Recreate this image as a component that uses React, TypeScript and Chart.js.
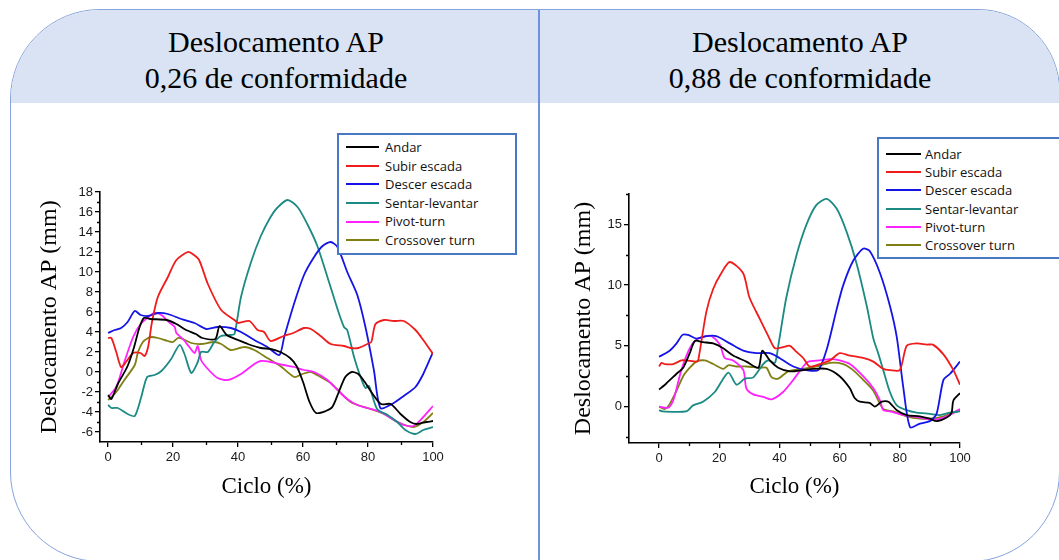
import React, { useEffect, useRef } from 'react';
import { Chart, registerables } from 'chart.js';
Chart.register(...registerables);

type Pt = [number, number];

const seriesNames = ['Andar', 'Subir escada', 'Descer escada', 'Sentar-levantar', 'Pivot-turn', 'Crossover turn'];
const seriesColors = ['#000000', '#f01c1c', '#1414e6', '#1b8a82', '#ff22ff', '#7f7f14'];

const titleLine1 = 'Deslocamento AP';
const leftTitleLine2 = '0,26 de conformidade';
const rightTitleLine2 = '0,88 de conformidade';
const yAxisTitle = 'Deslocamento AP (mm)';
const xAxisTitle = 'Ciclo (%)';

// ---------- Left chart (0,26) ----------
const L_andar: Pt[] = [[0,-2.3],[1,-2.7],[3,-1.2],[6,0.6],[8,2.5],[9.5,4.3],[11,5.4],[13,5.3],[18,5.2],[21,4.8],[24,4.2],[27,3.8],[29,3.4],[33,3.3],[34.3,4.6],[36.5,3.7],[40,3.2],[43,2.8],[47,2.4],[50,2.3],[53,2.0],[56,1.4],[58,0.6],[60,-1.0],[62,-3.0],[64,-4.1],[67,-3.9],[69,-3.5],[71,-2.0],[73,-0.5],[75,0.0],[77,-0.2],[79,-1.0],[81,-2.0],[84,-3.2],[87,-3.2],[90,-4.2],[93,-5.0],[95,-5.2],[98,-5.0],[100,-4.9]];
const L_subir: Pt[] = [[0,3.4],[1,3.4],[2.5,2.0],[4,0.5],[5.5,1.0],[7.7,1.9],[10,1.9],[11.2,1.6],[12.3,2.5],[13.5,5.0],[15.3,7.5],[18.4,9.5],[21,11.2],[24.5,12.0],[26,11.8],[28,11.2],[30.7,8.8],[34.8,6.2],[38.9,5.2],[40,4.9],[43.5,5.1],[46,4.2],[48,4.0],[50,3.1],[54,3.6],[57,3.9],[60.3,4.4],[62.4,4.3],[65.4,3.6],[68.5,2.8],[72.6,2.6],[74.6,2.4],[77,2.4],[79.8,2.8],[81,3.0],[82.3,4.8],[85,5.2],[88,5.1],[91,5.1],[94.6,4.2],[97,3.2],[100,1.8]];
const L_descer: Pt[] = [[0,3.9],[2,4.2],[4,4.4],[6,5.0],[8.2,6.1],[10,5.7],[12.3,5.6],[15.3,5.9],[18.4,5.8],[22.5,5.3],[26.6,4.9],[30.2,4.3],[33.7,4.5],[37.8,4.4],[40.9,4.0],[45,3.2],[49,2.5],[52.7,1.7],[54.2,3.5],[57.3,6.9],[60.3,9.7],[63.4,11.5],[66,12.6],[68.5,13.0],[70.6,12.5],[73.6,10.0],[76.7,7.7],[79.2,4.5],[81.8,0.2],[83.8,-3.6],[87.4,-3.2],[91,-2.4],[94.6,-1.5],[97,-0.2],[100,2.0]];
const L_sentar: Pt[] = [[0,-3.3],[1,-3.6],[3,-3.6],[6,-4.2],[8.2,-4.4],[10.2,-2.5],[12,-0.5],[14.3,-0.3],[16.4,0.1],[19.4,1.3],[22,2.7],[23.5,1.8],[25.6,-0.1],[27.6,1.0],[28.6,2.0],[30.7,2.0],[32.7,3.0],[34.8,3.6],[37.8,3.7],[38.9,3.8],[40.9,7.5],[44,11.0],[47,13.6],[50,15.5],[52,16.4],[55.2,17.2],[58.3,16.5],[61.3,14.8],[64.4,12.6],[67.5,9.5],[70.6,6.3],[72.6,4.5],[73.6,4.2],[75.7,1.5],[77.7,-0.5],[79.2,-1.6],[80.3,-1.4],[82.8,-3.7],[86,-4.3],[89,-5.0],[91.5,-5.8],[94.6,-6.2],[97,-5.8],[100,-5.5]];
const L_pivot: Pt[] = [[0,-2.5],[2.5,-1.5],[5,1.0],[7.7,3.5],[10,4.8],[12.8,5.6],[14.3,5.9],[16.4,5.7],[19,4.9],[20.5,4.5],[21,3.9],[23,3.3],[25,2.5],[26.6,1.9],[27.6,2.6],[28.6,1.2],[30.7,0.3],[33.7,-0.6],[36.8,-0.8],[40.9,-0.2],[45,0.8],[47,1.1],[50,1.0],[54,0.7],[57.3,0.5],[60.3,0.2],[63.4,0.0],[67.5,-0.8],[70.6,-1.8],[73.6,-2.7],[76.7,-3.3],[79.8,-3.6],[83.8,-4.0],[88,-4.8],[91,-5.3],[94,-5.4],[97,-4.5],[100,-3.4]];
const L_cross: Pt[] = [[0,-2.8],[2.5,-2.0],[5,-0.8],[8.2,0.7],[9.2,2.0],[10.7,3.0],[12.3,3.4],[13.3,3.5],[15.3,3.4],[18.4,3.1],[20,3.0],[21.5,3.4],[23,3.3],[25.6,2.9],[28.6,2.8],[32.7,3.0],[34.8,2.8],[37.8,2.2],[42,2.5],[45,2.2],[49,1.4],[53,0.6],[57.3,-0.5],[59.8,-0.2],[62.4,0.0],[65.4,-0.5],[68.5,-1.1],[71.6,-2.1],[74.6,-3.0],[77.7,-3.4],[80.8,-3.7],[85,-4.2],[89,-5.0],[94,-5.5],[97,-5.0],[100,-4.1]];

// ---------- Right chart (0,88) ----------
const R_andar: Pt[] = [[0,1.4],[2.4,1.9],[5.8,2.7],[8,3.2],[10.2,4.4],[11.9,5.4],[14.6,5.3],[18,5.2],[21.3,4.8],[24.6,4.2],[29,3.7],[33,3.2],[34.3,4.6],[36.8,3.8],[39.6,3.2],[43.5,2.9],[47.9,3.0],[51.2,3.1],[55.7,3.1],[60,2.5],[63.4,1.5],[65,0.7],[66.7,0.4],[70,0.3],[71.7,0.0],[74,0.4],[76.2,0.4],[79,-0.3],[82.3,-0.7],[86.7,-0.8],[90,-1.0],[92.2,-1.2],[95.6,-0.9],[97.2,-0.5],[97.8,0.5],[100,1.1]];
const R_subir: Pt[] = [[0,3.3],[0.8,3.6],[1.9,3.5],[4.7,3.5],[7.4,3.8],[9,3.8],[12.4,3.7],[13,3.8],[15.7,7.8],[18,9.7],[20.7,11.0],[23.5,11.9],[27.9,11.0],[30,9.0],[33.5,7.2],[36.3,5.8],[38.5,4.8],[41.2,4.9],[43.5,5.0],[45.7,4.5],[47.9,4.0],[50,3.3],[53.4,3.5],[56.8,3.8],[60,4.4],[63.4,4.2],[67.8,4.0],[71.2,3.7],[74.5,3.1],[76.7,3.0],[80,3.0],[82.3,5.0],[85.6,5.2],[89,5.1],[91,5.1],[94.5,4.3],[97.8,3.0],[100,1.8]];
const R_descer: Pt[] = [[0,4.1],[3.5,4.6],[5.8,5.2],[7.8,5.9],[9.6,5.9],[12.4,5.6],[15.7,5.8],[19,5.8],[23.5,5.2],[28,4.6],[32.4,4.4],[36.8,4.4],[40,4.0],[44.6,3.3],[49,3.0],[52.9,3.0],[55.7,4.7],[59,8.0],[61.2,10.0],[64.5,12.0],[67.8,13.0],[70,12.8],[73.4,11.0],[76.7,8.3],[79,5.7],[81.2,1.5],[83.4,-1.7],[86.7,-1.4],[90,-1.2],[92.2,-0.6],[94.5,2.2],[96.7,2.7],[100,3.7]];
const R_sentar: Pt[] = [[0,-0.3],[1.3,-0.4],[9,-0.4],[11.3,0.1],[14.6,0.4],[18.5,1.2],[23,2.8],[25.7,1.8],[28.5,2.3],[31.3,2.4],[34.6,3.5],[36.3,3.8],[38.5,3.6],[39.6,5.0],[42.3,9.0],[45.7,12.5],[49,15.0],[52.3,16.6],[55.7,17.1],[59,16.3],[62.3,14.4],[65.6,11.8],[69,8.3],[71.2,5.6],[72.8,4.4],[74.5,3.0],[76.7,1.2],[79,0.1],[82.3,-0.3],[85.6,-0.5],[90,-0.6],[93.3,-0.7],[96.7,-0.5],[100,-0.4]];
const R_pivot: Pt[] = [[0,0.0],[3,-0.1],[4.7,0.5],[7.4,3.0],[10.2,4.8],[12.4,5.5],[15.7,5.8],[17.4,5.8],[20.2,5.1],[21.8,4.0],[24.6,3.8],[28,3.0],[29,1.5],[31.3,1.0],[34.6,0.8],[37.4,0.6],[41.2,1.2],[44.6,2.2],[47.9,3.3],[49.6,3.7],[53.4,3.8],[56.8,3.9],[60,3.8],[63.4,3.5],[67.8,2.5],[71.2,1.5],[73.4,0.5],[74.5,-0.3],[76.7,-0.4],[81.2,-0.7],[86.7,-0.9],[91,-1.1],[95.6,-0.8],[100,-0.2]];
const R_cross: Pt[] = [[0,0.0],[1.9,-0.2],[3.5,0.2],[5.8,1.3],[8,2.5],[10.2,3.2],[12.4,3.7],[15.2,3.8],[18,3.5],[21.3,3.1],[23,3.4],[25.7,3.3],[29,3.3],[33.5,3.2],[35.7,3.2],[37.4,2.4],[39.6,2.3],[42.9,2.9],[47.9,3.1],[52.3,3.3],[56.8,3.6],[61.2,3.5],[64.5,3.0],[67.8,2.2],[71.2,1.3],[74.5,-0.2],[77.8,-0.4],[82.3,-0.8],[86.7,-1.0],[90,-1.0],[94.5,-0.8],[100,-0.3]];

const leftSeries = [L_andar, L_subir, L_descer, L_sentar, L_pivot, L_cross];
const rightSeries = [R_andar, R_subir, R_descer, R_sentar, R_pivot, R_cross];

// Tick values
const L_xMajor = [0, 20, 40, 60, 80, 100];
const L_xMinor = [10, 30, 50, 70, 90];
const L_yMajor = [-6, -4, -2, 0, 2, 4, 6, 8, 10, 12, 14, 16, 18];
const L_yMinor = [-5, -3, -1, 1, 3, 5, 7, 9, 11, 13, 15, 17];
const R_xMajor = [0, 20, 40, 60, 80, 100];
const R_xMinor = [10, 30, 50, 70, 90];
const R_yMajor = [0, 5, 10, 15];
const R_yMinor = [-2.5, 2.5, 7.5, 12.5, 17.5];

interface PanelCfg {
  series: Pt[][];
  xMin: number; xMax: number; yMin: number; yMax: number;
  xMajor: number[]; xMinor: number[]; yMajor: number[]; yMinor: number[];
  padTop: number; padRight: number; yWidth: number; xHeight: number;
  yTitlePad: number; xTitlePad: number;
}

const tickFont = { family: '"Liberation Sans", Arial, sans-serif', size: 13 };
const serif = '"Liberation Serif", "Times New Roman", serif';

function makeChart(canvas: HTMLCanvasElement, p: PanelCfg) {
  const minorPlugin = {
    id: 'minorTicks',
    afterDraw(chart: any) {
      const ctx = chart.ctx;
      const area = chart.chartArea;
      const xs = chart.scales.x;
      const ys = chart.scales.y;
      ctx.save();
      ctx.strokeStyle = '#000';
      ctx.lineWidth = 1.3;
      ctx.beginPath();
      p.xMinor.forEach((v) => {
        const px = Math.round(xs.getPixelForValue(v)) + 0.5;
        ctx.moveTo(px, area.bottom);
        ctx.lineTo(px, area.bottom + 3);
      });
      p.yMinor.forEach((v) => {
        const py = Math.round(ys.getPixelForValue(v)) + 0.5;
        ctx.moveTo(area.left - 3, py);
        ctx.lineTo(area.left, py);
      });
      ctx.stroke();
      ctx.restore();
    },
  };

  return new Chart(canvas, {
    type: 'line',
    data: {
      datasets: p.series.map((s, i) => ({
        label: seriesNames[i],
        data: s.map(([x, y]) => ({ x, y })),
        borderColor: seriesColors[i],
        backgroundColor: seriesColors[i],
        borderWidth: 1.8,
        pointRadius: 0,
        tension: 0.25,
        fill: false,
      })),
    },
    options: {
      animation: false,
      responsive: false,
      maintainAspectRatio: false,
      layout: { padding: { top: p.padTop, right: p.padRight, bottom: 0, left: 0 } },
      plugins: { legend: { display: false }, tooltip: { enabled: false } },
      scales: {
        x: {
          type: 'linear',
          min: p.xMin,
          max: p.xMax,
          afterBuildTicks: (s: any) => { s.ticks = p.xMajor.map((v) => ({ value: v })); },
          afterFit: (s: any) => { s.height = p.xHeight; },
          ticks: { font: tickFont, color: '#1a1a1a', padding: 3, maxRotation: 0, autoSkip: false },
          grid: { display: true, drawOnChartArea: false, drawTicks: true, tickLength: 5, color: '#000', lineWidth: 1.3 },
          border: { display: true, color: '#000', width: 1.6 },
          title: {
            display: true,
            text: xAxisTitle,
            font: { family: serif, size: 23 },
            color: '#000',
            padding: { top: 0, bottom: p.xTitlePad },
          },
        },
        y: {
          type: 'linear',
          min: p.yMin,
          max: p.yMax,
          afterBuildTicks: (s: any) => { s.ticks = p.yMajor.map((v) => ({ value: v })); },
          afterFit: (s: any) => { s.width = p.yWidth; },
          ticks: { font: tickFont, color: '#1a1a1a', padding: 2, autoSkip: false },
          grid: { display: true, drawOnChartArea: false, drawTicks: true, tickLength: 5, color: '#000', lineWidth: 1.3 },
          border: { display: true, color: '#000', width: 1.6 },
          title: {
            display: true,
            text: yAxisTitle,
            font: { family: serif, size: 24 },
            color: '#000',
            padding: { top: p.yTitlePad, bottom: 0 },
          },
        },
      },
    },
    plugins: [minorPlugin],
  } as any);
}

function ChartCanvas({ cfg, left }: { cfg: PanelCfg; left: number }) {
  const ref = useRef<HTMLCanvasElement>(null);
  useEffect(() => {
    if (!ref.current) return;
    const c = makeChart(ref.current, cfg);
    return () => c.destroy();
  }, []);
  return (
    <canvas
      ref={ref}
      width={500}
      height={370}
      style={{ position: 'absolute', left, top: 150, width: 500, height: 370 }}
    />
  );
}

function Legend({ left, top, width, padTop, rowH, sampleW, gap }: { left: number; top: number; width: number; padTop: number; rowH: number; sampleW: number; gap: number }) {
  return (
    <div
      style={{
        position: 'absolute', left, top, width, height: 122, boxSizing: 'border-box',
        border: '2px solid #4a76c6', background: '#fff', paddingTop: padTop, paddingLeft: 7,
        fontFamily: '"Open Sans", Lato, sans-serif', fontSize: 13, color: '#111',
      }}
    >
      {seriesNames.map((n, i) => (
        <div key={n} style={{ height: rowH, display: 'flex', alignItems: 'center', whiteSpace: 'nowrap' }}>
          <span style={{ display: 'inline-block', width: sampleW, height: 2, background: seriesColors[i], marginRight: gap }} />
          <span style={{ lineHeight: rowH + 'px' }}>{n}</span>
        </div>
      ))}
    </div>
  );
}

const leftCfg: PanelCfg = {
  series: leftSeries,
  xMin: -2.5, xMax: 100, yMin: -7, yMax: 18,
  xMajor: L_xMajor, xMinor: L_xMinor, yMajor: L_yMajor, yMinor: L_yMinor,
  padTop: 42, padRight: 77, yWidth: 90, xHeight: 78,
  yTitlePad: 25, xTitlePad: 19,
};
const rightCfg: PanelCfg = {
  series: rightSeries,
  xMin: -10, xMax: 100, yMin: -3, yMax: 17.5,
  xMajor: R_xMajor, xMinor: R_xMinor, yMajor: R_yMajor, yMinor: R_yMinor,
  padTop: 44, padRight: 80, yWidth: 89, xHeight: 77,
  yTitlePad: 29, xTitlePad: 19,
};

const titleStyle: React.CSSProperties = {
  position: 'absolute', top: 24, width: 528, textAlign: 'center',
  fontFamily: serif, fontSize: 30, lineHeight: '36px', color: '#000',
};

export default function App() {
  return (
    <div style={{ position: 'absolute', left: 0, top: 0, width: 1059, height: 560, overflow: 'hidden', background: '#fff' }}>
      <div
        style={{
          position: 'absolute', left: 10, top: 9, width: 1050, height: 553, boxSizing: 'border-box',
          border: '1.5px solid #86a3dc', borderRadius: '90px 82px 90px 90px', overflow: 'hidden', background: '#fff',
        }}
      >
        <div style={{ position: 'absolute', left: 0, top: 0, right: 0, height: 93, background: '#dae3f3' }} />
        <div style={{ position: 'absolute', left: 527, top: 0, width: 2, bottom: 0, background: '#6e92dc' }} />
      </div>
      <div style={{ ...titleStyle, left: 12 }}>
        <div>{titleLine1}</div>
        <div>{leftTitleLine2}</div>
      </div>
      <div style={{ ...titleStyle, left: 536 }}>
        <div>{titleLine1}</div>
        <div>{rightTitleLine2}</div>
      </div>
      <ChartCanvas cfg={leftCfg} left={10} />
      <ChartCanvas cfg={rightCfg} left={540} />
      <Legend left={337} top={133} width={180} padTop={3} rowH={18.6} sampleW={33} gap={6} />
      <Legend left={877} top={137} width={200} padTop={6} rowH={18.2} sampleW={35} gap={4} />
    </div>
  );
}
